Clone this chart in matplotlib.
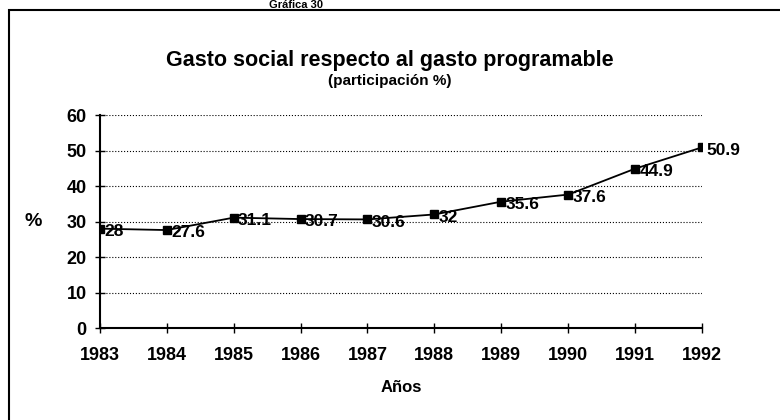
import matplotlib.pyplot as plt
from matplotlib.patches import Rectangle

plt.rcParams['font.family'] = ['Liberation Sans', 'DejaVu Sans']
plt.rcParams['font.weight'] = 'bold'

years = [1983, 1984, 1985, 1986, 1987, 1988, 1989, 1990, 1991, 1992]
share = [28, 27.6, 31.1, 30.7, 30.6, 32, 35.6, 37.6, 44.9, 50.9]
labels = ["28", "27.6", "31.1", "30.7", "30.6", "32", "35.6", "37.6", "44.9", "50.9"]

fig = plt.figure(figsize=(7.8, 4.2), dpi=100)
ax = fig.add_axes([0.128, 0.219, 0.772, 0.507])

# frame around the whole chart (runs off the right and bottom edges)
fig.add_artist(Rectangle((0.011, -0.1), 1.2, 1.076, transform=fig.transFigure,
                         fill=False, edgecolor="black", linewidth=1.5))
fig.text(0.38, 0.999, "Gráfica 30", ha="center", va="top", fontsize=8)

ax.plot(years, share, color="black", linewidth=1.3, marker="s", markersize=6)
for x, y, t in zip(years, share, labels):
    ax.annotate(t, (x, y), xytext=(3, -2), textcoords="offset points",
                ha="left", va="center", fontsize=12.5, fontweight="bold")

ax.set_xlim(1983, 1992)
ax.set_ylim(0, 60)
ax.set_xticks(years)
ax.set_yticks(range(0, 61, 10))
ax.grid(axis="y", linestyle=":", color="black", linewidth=0.8)
ax.set_axisbelow(True)

for s in ["top", "right"]:
    ax.spines[s].set_visible(False)
ax.spines["left"].set_linewidth(1.5)
ax.spines["bottom"].set_linewidth(1.5)
ax.tick_params(direction="inout", length=7, width=1, labelsize=13)
ax.tick_params(axis="x", pad=10)
ax.tick_params(axis="y", pad=6)

ax.set_xlabel("Años", fontsize=12, fontweight="bold", labelpad=12)
ax.set_ylabel("%", fontsize=14, fontweight="bold", rotation=0, labelpad=24, va="center")

fig.text(0.5, 0.855, "Gasto social respecto al gasto programable",
         ha="center", va="center", fontsize=15.5, fontweight="bold")
fig.text(0.5, 0.808, "(participación %)", ha="center", va="center",
         fontsize=11, fontweight="bold")

fig.savefig("out.png", dpi=100)
